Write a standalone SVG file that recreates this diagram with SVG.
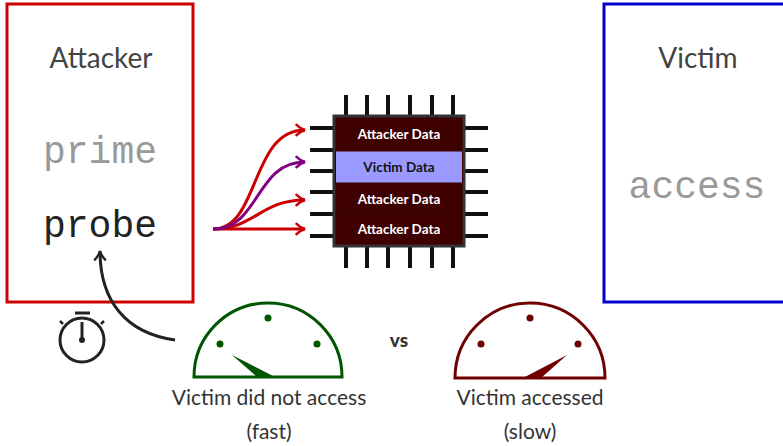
<svg xmlns="http://www.w3.org/2000/svg" width="783" height="446" viewBox="0 0 783 446">
  <style>
    .title { font-family: Lato, "Open Sans", sans-serif; font-size: 28px; fill: #444; text-anchor: middle; }
    .code { font-family: "Liberation Mono", monospace; font-size: 38px; text-anchor: middle; }
    .cell { font-family: Lato, "Open Sans", sans-serif; font-weight: bold; font-size: 13.5px; text-anchor: middle; }
    .cap { font-family: Lato, "Open Sans", sans-serif; font-size: 21px; fill: #333; text-anchor: middle; }
    .pin { stroke: #111; stroke-width: 4; }
    .wire { fill: none; stroke-width: 3; }
  </style>
  <defs>
    <marker id="headRed" viewBox="0 0 12 12" refX="10" refY="6" markerWidth="14" markerHeight="14" markerUnits="userSpaceOnUse" orient="auto">
      <path d="M2,1 Q6,5 10,6 Q6,7 2,11" fill="none" stroke="#cc0000" stroke-width="2"/>
    </marker>
    <marker id="headPurple" viewBox="0 0 12 12" refX="10" refY="6" markerWidth="14" markerHeight="14" markerUnits="userSpaceOnUse" orient="auto">
      <path d="M2,1 Q6,5 10,6 Q6,7 2,11" fill="none" stroke="#800080" stroke-width="2"/>
    </marker>
    <marker id="headDark" viewBox="0 0 12 12" refX="10" refY="6" markerWidth="14" markerHeight="14" markerUnits="userSpaceOnUse" orient="auto">
      <path d="M2,1 Q6,5 10,6 Q6,7 2,11" fill="none" stroke="#222" stroke-width="2"/>
    </marker>
  </defs>

  <!-- Attacker panel -->
  <g id="attacker">
    <rect x="7" y="4" width="186" height="298" fill="none" stroke="#cc0000" stroke-width="3"/>
    <text class="title" x="101" y="68">Attacker</text>
    <text class="code" x="100" y="163" fill="#999">prime</text>
    <text class="code" x="100" y="237" fill="#222">probe</text>
  </g>

  <!-- Victim panel -->
  <g id="victim">
    <rect x="604" y="4" width="190" height="298" fill="none" stroke="#0000cc" stroke-width="3"/>
    <text class="title" x="698" y="68">Victim</text>
    <text class="code" x="697" y="198" fill="#999">access</text>
  </g>

  <!-- Cache chip -->
  <g id="cache">
    <g class="pin">
      <line x1="346" y1="95" x2="346" y2="116"/><line x1="367" y1="95" x2="367" y2="116"/>
      <line x1="388" y1="95" x2="388" y2="116"/><line x1="410" y1="95" x2="410" y2="116"/>
      <line x1="432" y1="95" x2="432" y2="116"/><line x1="453" y1="95" x2="453" y2="116"/>
      <line x1="346" y1="246" x2="346" y2="268"/><line x1="367" y1="246" x2="367" y2="268"/>
      <line x1="388" y1="246" x2="388" y2="268"/><line x1="410" y1="246" x2="410" y2="268"/>
      <line x1="432" y1="246" x2="432" y2="268"/><line x1="453" y1="246" x2="453" y2="268"/>
      <line x1="310" y1="128" x2="334" y2="128"/><line x1="310" y1="150" x2="334" y2="150"/>
      <line x1="310" y1="171" x2="334" y2="171"/><line x1="310" y1="192" x2="334" y2="192"/>
      <line x1="310" y1="214" x2="334" y2="214"/><line x1="310" y1="236" x2="334" y2="236"/>
      <line x1="464" y1="128" x2="488" y2="128"/><line x1="464" y1="150" x2="488" y2="150"/>
      <line x1="464" y1="171" x2="488" y2="171"/><line x1="464" y1="192" x2="488" y2="192"/>
      <line x1="464" y1="214" x2="488" y2="214"/><line x1="464" y1="236" x2="488" y2="236"/>
    </g>
    <rect x="334" y="116" width="130" height="130" fill="#3f0000" stroke="#333" stroke-width="3"/>
    <rect x="335.5" y="151" width="127" height="32" fill="#9999ff" stroke="#3f0000" stroke-width="1"/>
    <line x1="335.5" y1="214" x2="462.5" y2="214" stroke="#2a0000" stroke-width="1"/>
    <text class="cell" x="399" y="139" fill="#fff">Attacker Data</text>
    <text class="cell" x="399" y="172" fill="#111">Victim Data</text>
    <text class="cell" x="399" y="204" fill="#fff">Attacker Data</text>
    <text class="cell" x="399" y="234" fill="#fff">Attacker Data</text>
  </g>

  <!-- Timing gauge: fast -->
  <g id="gauge-fast">
    <path d="M194,377 A74,74 0 0 1 342,377 Z" fill="none" stroke="#005500" stroke-width="3"/>
    <circle cx="220" cy="344" r="3.5" fill="#005500"/>
    <circle cx="268" cy="318" r="3.5" fill="#005500"/>
    <circle cx="317" cy="344" r="3.5" fill="#005500"/>
    <path d="M232,355 L275,377 L257,377 Z" fill="#005500"/>
    <text class="cap" x="269" y="405">Victim did not access</text>
    <text class="cap" x="269" y="439">(fast)</text>
  </g>

  <!-- Timing gauge: slow -->
  <g id="gauge-slow">
    <path d="M455,378 A75,75 0 0 1 605,378 Z" fill="none" stroke="#700000" stroke-width="3"/>
    <circle cx="481" cy="344" r="3.5" fill="#700000"/>
    <circle cx="530" cy="318" r="3.5" fill="#700000"/>
    <circle cx="578" cy="344" r="3.5" fill="#700000"/>
    <path d="M567,355 L541,378 L523,378 Z" fill="#700000"/>
    <text class="cap" x="530" y="405">Victim accessed</text>
    <text class="cap" x="530" y="439">(slow)</text>
  </g>

  <text id="vs" x="399" y="347" font-family="Lato, 'Open Sans', sans-serif" font-weight="900" font-size="19" fill="#333" text-anchor="middle">vs</text>

  <!-- Stopwatch -->
  <g id="stopwatch" fill="none" stroke="#222">
    <circle cx="82" cy="340" r="22" stroke-width="3"/>
    <line x1="75" y1="313" x2="90" y2="313" stroke-width="3"/>
    <line x1="82" y1="340" x2="82" y2="322" stroke-width="3"/>
    <circle cx="82" cy="340" r="3" fill="#222" stroke="none"/>
    <line x1="60" y1="321" x2="63" y2="324" stroke-width="2.5"/>
    <line x1="104" y1="321" x2="101" y2="324" stroke-width="2.5"/>
  </g>

  <!-- Connectors -->
  <g id="connectors">
    <path class="wire" stroke="#cc0000" d="M213,229 C260,229 250,130 305,130" marker-end="url(#headRed)"/>
    <path class="wire" stroke="#cc0000" d="M213,229 C255,229 260,200 305,200" marker-end="url(#headRed)"/>
    <path class="wire" stroke="#cc0000" d="M213,229 L305,229" marker-end="url(#headRed)"/>
    <path class="wire" stroke="#800080" d="M213,229 C260,229 255,162 305,162" marker-end="url(#headPurple)"/>
    <path class="wire" stroke="#222" d="M175,340 C125,333 100,300 100,251" marker-end="url(#headDark)"/>
  </g>
</svg>
